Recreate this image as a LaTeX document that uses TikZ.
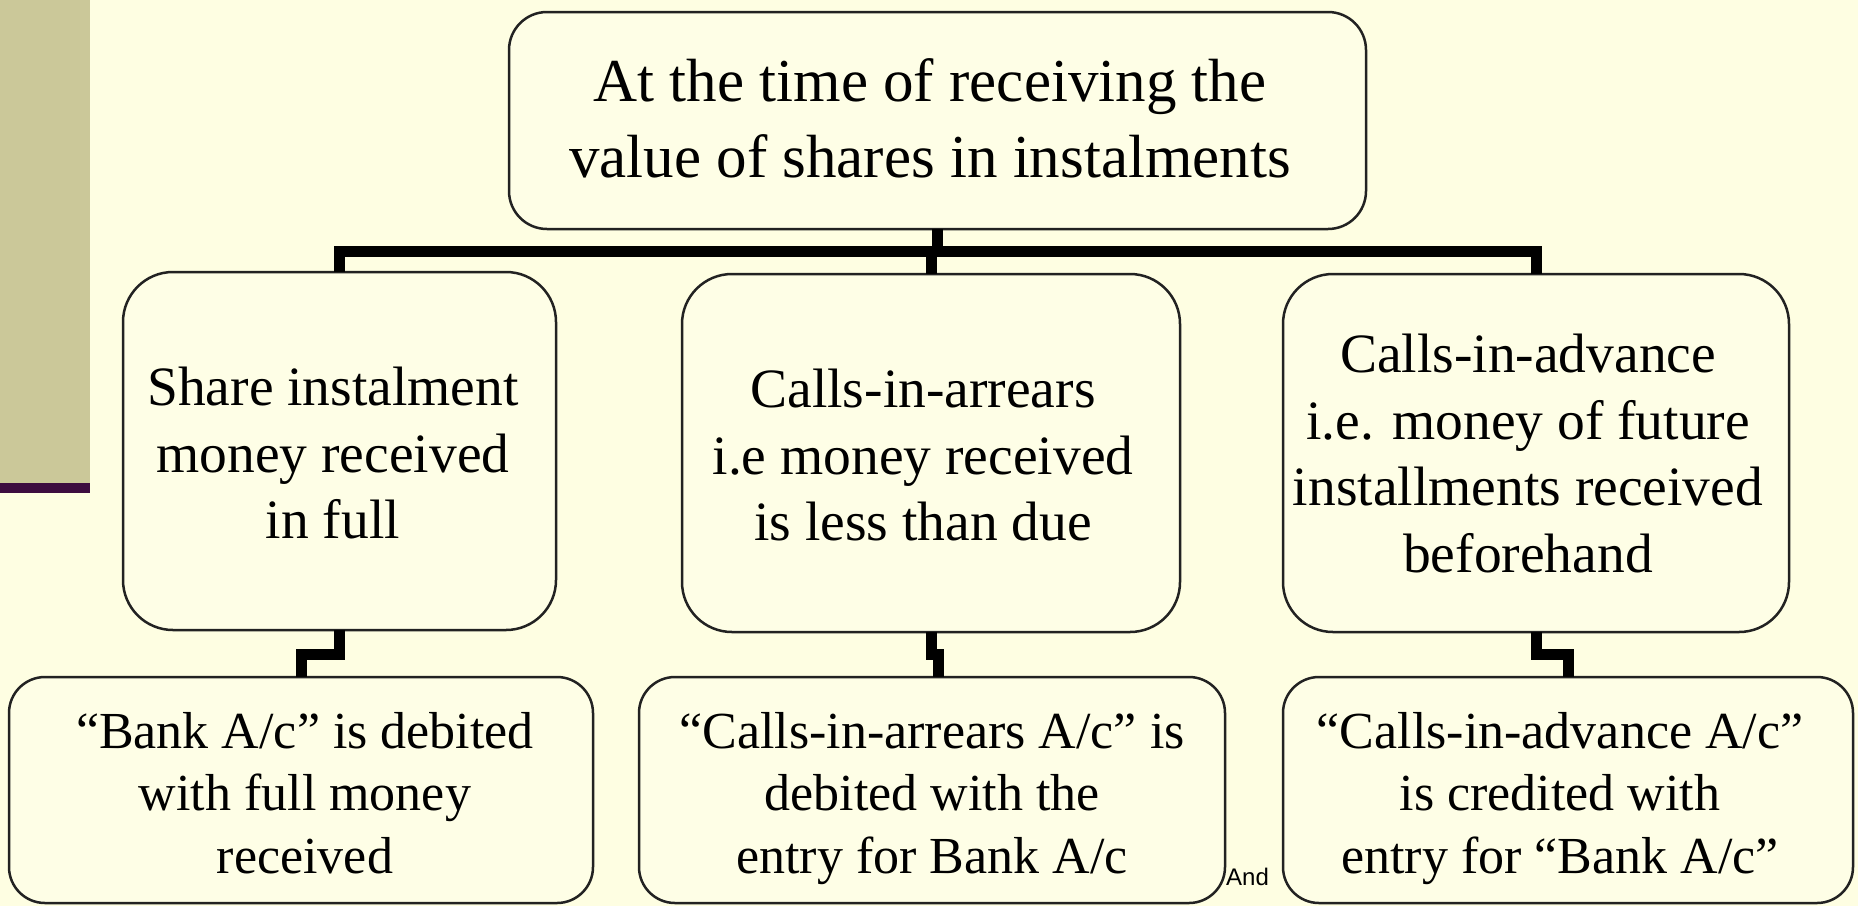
\documentclass[tikz,border=0pt]{standalone}
\usepackage{fontspec}
\setmainfont{Liberation Serif}
\newfontfamily\andfont{Liberation Sans}
\usetikzlibrary{calc}
\definecolor{bgc}{HTML}{FEFEE2}
\definecolor{boxc}{HTML}{FEFEE6}
\definecolor{sidec}{HTML}{CBC899}
\definecolor{purpc}{HTML}{3D0C3F}
\definecolor{edgec}{HTML}{222222}
\tikzset{
  box/.style={draw=edgec, line width=2.5pt, fill=boxc, inner sep=0pt, outer sep=0pt},
  conn/.style={draw=black, line width=11pt, line cap=butt, line join=miter},
  txt/.style={align=center, inner sep=0pt, anchor=north, text=black},
  topfont/.style={font=\fontsize{61}{76}\selectfont},
  midfont/.style={font=\fontsize{55.5}{66.5}\selectfont},
  botfont/.style={font=\fontsize{52}{62.5}\selectfont}
}
\begin{document}
\begin{tikzpicture}[x=1pt,y=-1pt]
\useasboundingbox (0,0) rectangle (1858,906);
\fill[bgc] (0,0) rectangle (1858,906);
\fill[sidec] (0,0) rectangle (90,483);
\fill[purpc] (0,483) rectangle (90,493);

\coordinate (bar) at (0,251);
\coordinate (jog) at (0,654);

% boxes
\node[box, rounded corners=38pt, minimum width=857pt, minimum height=217pt] (top) at (937.5,120.5) {};
\node[box, rounded corners=50pt, minimum width=433pt, minimum height=358pt] (m1) at (339.5,451) {};
\node[box, rounded corners=50pt, minimum width=498pt, minimum height=358pt] (m2) at (931,453) {};
\node[box, rounded corners=50pt, minimum width=506pt, minimum height=358pt] (m3) at (1536,453) {};
\node[box, rounded corners=36pt, minimum width=584pt, minimum height=226pt] (b1) at (301,790) {};
\node[box, rounded corners=36pt, minimum width=586pt, minimum height=226pt] (b2) at (932,790) {};
\node[box, rounded corners=36pt, minimum width=570pt, minimum height=226pt] (b3) at (1568,790) {};

% connectors
\draw[conn] (top.south) -- (top.south |- bar) -| (m1.north);
\draw[conn] (top.south) -- (top.south |- bar) -| (m3.north);
\draw[conn] (top.south |- bar) -| (m2.north);
\draw[conn] (m1.south) -- (m1.south |- jog) -| (b1.north);
\draw[conn] (m2.south) -- (m2.south |- jog) -| ($(b2.north)+(6,0)$);
\draw[conn] (m3.south) -- (m3.south |- jog) -| (b3.north);

% texts
\node[txt, topfont] (ttop) at (930,58) {At the time of receiving the\\value of shares in instalments};
\node[txt, midfont] (tm1) at (333,367) {Share instalment\\money received\\in full};
\node[txt, midfont] (tm2) at (923,369) {Calls-in-arrears\\i.e money received\\is less than due};
\node[txt, midfont] (tm3) at (1528,334) {Calls-in-advance\\i.e. money of future\\installments received\\beforehand};
\node[txt, botfont] (tb1) at (305,712) {“Bank A/c” is debited\\with full money\\received};
\node[txt, botfont] (tb2) at (932,712) {“Calls-in-arrears A/c” is\\debited with the\\entry for Bank A/c};
\node[txt, botfont] (tb3) at (1560,712) {“Calls-in-advance A/c”\\is credited with\\entry for “Bank A/c”};
\node[anchor=base west, inner sep=0pt, font=\andfont\fontsize{24}{28}\selectfont] (andtxt) at (1226,885) {And};
\end{tikzpicture}
\end{document}
